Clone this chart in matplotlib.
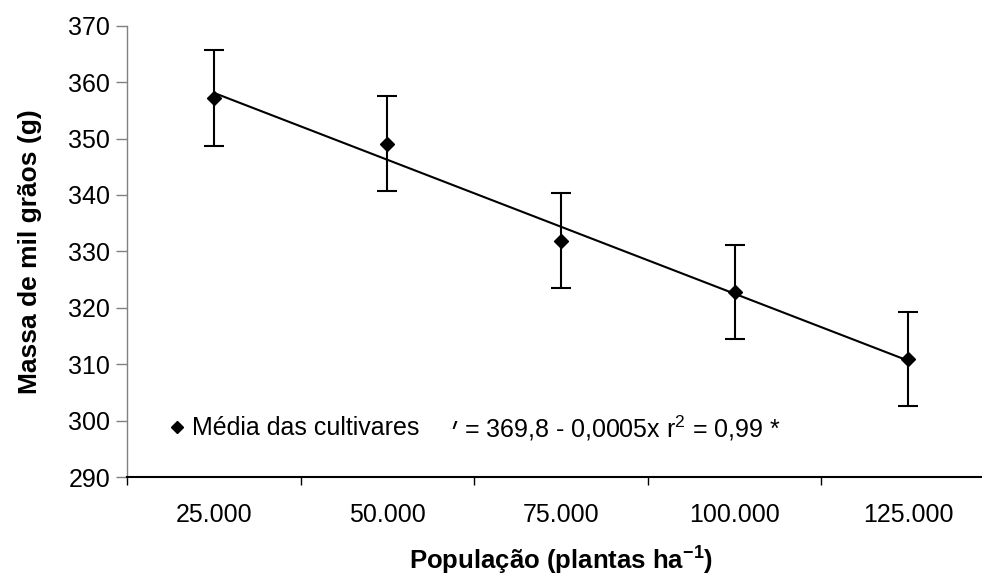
import numpy as np
import matplotlib
matplotlib.use('Agg')
import matplotlib.pyplot as plt
from matplotlib.lines import Line2D
from matplotlib.transforms import Bbox

plt.rcParams['font.family'] = ['Liberation Sans', 'DejaVu Sans']
plt.rcParams['mathtext.fontset'] = 'custom'
plt.rcParams['mathtext.rm'] = 'Liberation Sans'
plt.rcParams['mathtext.bf'] = 'Liberation Sans:bold'

# data
populacao = ['25.000', '50.000', '75.000', '100.000', '125.000']
massa = [357.1, 349.1, 331.9, 322.8, 310.9]
erro = [8.5, 8.4, 8.4, 8.4, 8.3]
y_ticks = [290, 300, 310, 320, 330, 340, 350, 360, 370]

x = np.arange(1, len(populacao) + 1)

fig = plt.figure(figsize=(9.82, 5.77), dpi=100)
ax = fig.add_axes([0.1293, 0.1733, 0.8839, 0.7822])

# error bars + markers
ax.errorbar(x, massa, yerr=erro, fmt='D', color='black', ms=7,
            ecolor='black', elinewidth=1.5, capsize=7.5, capthick=1.5, zorder=3)

# linear trend line
coef = np.polyfit(x, massa, 1)
ax.plot(x, np.polyval(coef, x), color='black', lw=1.5, zorder=2)

ax.set_xlim(0.5, len(populacao) + 0.5)
ax.set_ylim(290, 370)
ax.set_yticks(y_ticks)
ax.set_xticks(np.arange(0.5, len(populacao) + 1, 1))
ax.set_xticklabels([])
ax.set_xticks(x, minor=True)
ax.set_xticklabels(populacao, minor=True, fontsize=18)
ax.tick_params(axis='x', which='minor', length=0, pad=19)
ax.tick_params(axis='x', which='major', direction='out', length=6, width=1, color='black')
ax.tick_params(axis='y', direction='out', length=8, width=1, color='#808080', labelsize=18, pad=4)

for s in ['top', 'right']:
    ax.spines[s].set_visible(False)
ax.spines['left'].set_color('#808080')
ax.spines['left'].set_linewidth(1)
ax.spines['bottom'].set_color('black')
ax.spines['bottom'].set_linewidth(1.5)

ax.set_ylabel('Massa de mil grãos (g)', fontsize=19, fontweight='bold', labelpad=19)
ax.set_xlabel('População (plantas ha$^{\\mathbf{-1}}$)', fontsize=18.5, fontweight='bold', labelpad=11)

# legend
h = Line2D([], [], marker='D', ls='none', color='black', ms=6)
ax.legend(handles=[h], labels=['Média das cultivares'], loc='center left',
          bbox_to_anchor=(0.05, 0.108), frameon=False, fontsize=18,
          handlelength=0.55, handletextpad=0.3, borderpad=0, borderaxespad=0)

# equation (the leading "y" is cut off in the original)
ty = ax.text(0.381, 0.108, 'y', transform=ax.transAxes, fontsize=18,
             ha='right', va='center', clip_on=True)
ty.set_clip_path(None)
ty.set_clip_box(Bbox.from_extents(450, 148, 458, 165))
ax.text(0.388, 0.108, '= 369,8 - 0,0005x r$^{\\mathregular{2}}$ = 0,99 *',
        transform=ax.transAxes, fontsize=18, ha='left', va='center')

fig.savefig('out.png', dpi=100)
